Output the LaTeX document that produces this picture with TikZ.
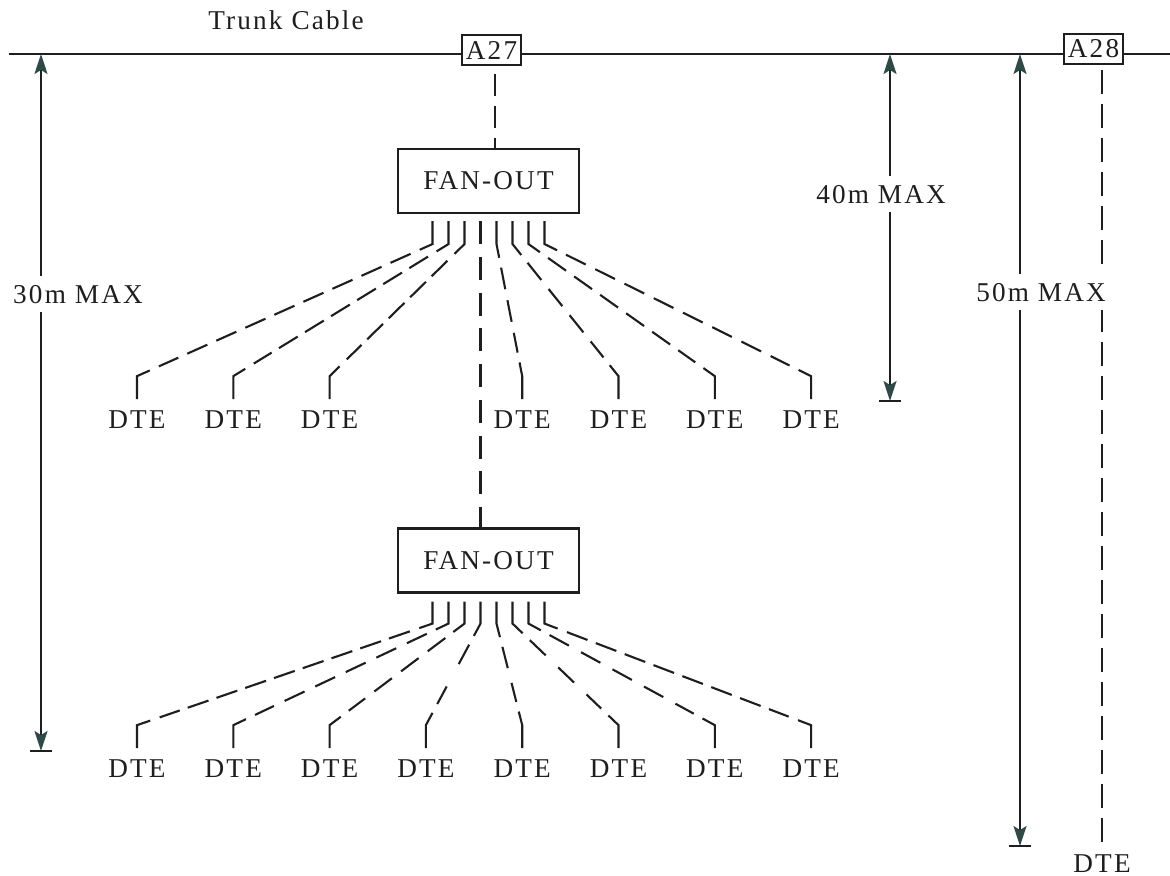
\documentclass[tikz,border=0pt]{standalone}
\usepackage{fontspec}
\setmainfont{Liberation Serif}[LetterSpace=8]
\usetikzlibrary{arrows.meta,calc}
\definecolor{ink}{HTML}{1E1E1E}
\definecolor{tipc}{HTML}{2E4A46}
\begin{document}
\begin{tikzpicture}[x=0.5pt,y=-0.5pt, line width=1.05pt, draw=ink,
  every node/.style={font=\fontsize{13.6pt}{16pt}\selectfont, text=ink},
  lbl/.style={inner sep=0pt},
  tagbox/.style={draw=ink, inner xsep=1.5pt, inner ysep=2pt, minimum width=29.5pt, minimum height=15pt},
  fanbox/.style={draw=ink, minimum width=90.5pt, minimum height=32pt},
  dte/.style={anchor=base, inner sep=0pt},
  dimarrow/.style={line width=0.9pt,{Stealth[length=10pt,width=6.5pt,inset=2pt,color=tipc]}-{Stealth[length=10pt,width=6.5pt,inset=2pt,color=tipc]}},
  dsh/.style={dash pattern=on 11pt off 5pt},
  maxlbl/.style={fill=white, inner xsep=2pt, inner ysep=4.5pt, anchor=base}
]
\fill[white] (0,0) rectangle (1170,875);
\useasboundingbox (0,0) rectangle (1170,875);

% trunk cable and taps
\node[lbl, anchor=base] (trunklbl) at (286,29) {Trunk Cable};
\node[tagbox] (A27) at (491.5,50) {A27};
\node[tagbox] (A28) at (1093.5,49) {A28};
\coordinate (tl) at (9,54);
\coordinate (tr) at (1170,54);
\draw[line width=0.9pt] (tl) -- (tl -| A27.west);
\draw[line width=0.9pt] (tl -| A27.east) -- (tl -| A28.west);
\draw[line width=0.9pt] (tl -| A28.east) -- (tr);

% fan-out boxes
\node[fanbox] (fan1) at (488.5,181) {FAN-OUT};
\node[fanbox] (fan2) at (488.5,560.5) {FAN-OUT};

% DTE nodes
\foreach \i in {0,1,2,4,5,6,7} {
  \node[dte] (t\i) at ({137+96.3*\i},428) {DTE};
}
\foreach \i in {0,...,7} {
  \node[dte] (b\i) at ({137+96.3*\i},777) {DTE};
}
\node[dte] (d8) at (1102,872) {DTE};

% A27 to fan-out 1
\coordinate (a27d) at ([xshift=1.75pt]A27.south);
\draw[dsh, dash phase=12pt] (a27d) -- (a27d |- fan1.north);

% fan-out 1 to fan-out 2
\coordinate (c12) at ([xshift=-4pt,yshift=-3.5pt]fan1.south);
\draw[dash pattern=on 11.5pt off 6.375pt] (c12) -- (c12 |- fan2.north);

% fan-out 1 links
\foreach \k in {0,1,2,4,5,6,7} {
  \pgfmathsetmacro\ddx{((137+96.3*\k)-(432.5+16*\k))/10}
  \pgfmathsetmacro\MM{sqrt(\ddx*\ddx+13.4*13.4)*10-48}
  \pgfmathsetmacro\nn{max(2,round((\MM+10)/32))}
  \pgfmathsetmacro\off{(\MM-\nn*22)/(\nn-1)/2}
  \path ([xshift={(-28+8*\k)*1pt}, yshift=-3.5pt]fan1.south) coordinate (s) ++(0,23) coordinate (p1);
  \path ([yshift=5pt]t\k.north) coordinate (e) ++(0,-23) coordinate (p2);
  \draw (s) -- (p1) -- ($(p1)!7pt!(p2)$);
  \draw[dash pattern=on 11pt off \off pt] ($(p1)!12pt!(p2)$) -- ($(p2)!12pt!(p1)$);
  \draw ($(p2)!7pt!(p1)$) -- (p2) -- (e);
}
% fan-out 2 links
\foreach \k in {0,...,7} {
  \pgfmathsetmacro\ddx{((137+96.3*\k)-(432.5+16*\k))/10}
  \pgfmathsetmacro\MM{sqrt(\ddx*\ddx+10.4*10.4)*10-48}
  \pgfmathsetmacro\nn{max(2,round((\MM+10)/32))}
  \pgfmathsetmacro\off{(\MM-\nn*22)/(\nn-1)/2}
  \path ([xshift={(-28+8*\k)*1pt}, yshift=-4pt]fan2.south) coordinate (s) ++(0,22) coordinate (p1);
  \path ([yshift=5pt]b\k.north) coordinate (e) ++(0,-23) coordinate (p2);
  \draw (s) -- (p1) -- ($(p1)!7pt!(p2)$);
  \draw[dash pattern=on 11pt off \off pt] ($(p1)!12pt!(p2)$) -- ($(p2)!12pt!(p1)$);
  \draw ($(p2)!7pt!(p1)$) -- (p2) -- (e);
}

% A28 drop
\coordinate (a28d) at (A28.south -| d8.base);
\draw[dash pattern=on 12pt off 5pt, dash phase=14.5pt] (a28d) -- ([yshift=5.5pt]d8.north);

% dimension arrows
\coordinate (d30a) at (41,54);
\coordinate (d30b) at (41,751);
\draw[dimarrow] (d30a) -- (d30b);
\draw[line width=0.9pt] ([xshift=-5.5pt]d30b) -- ([xshift=5.5pt]d30b);

\coordinate (d40a) at (890,54);
\coordinate (d40b) at (890,401);
\draw[dimarrow] (d40a) -- (d40b);
\draw[line width=0.9pt] ([xshift=-5.5pt]d40b) -- ([xshift=5.5pt]d40b);

\coordinate (d50a) at (1020,54);
\coordinate (d50b) at (1020,846);
\draw[dimarrow] (d50a) -- (d50b);
\draw[line width=0.9pt] ([xshift=-5.5pt]d50b) -- ([xshift=5.5pt]d50b);

\node[maxlbl] (m30) at (78,303) {30m MAX};
\node[maxlbl] (m40) at (881,203) {40m MAX};
\node[maxlbl] (m50) at (1041,301) {50m MAX};
\end{tikzpicture}
\end{document}
